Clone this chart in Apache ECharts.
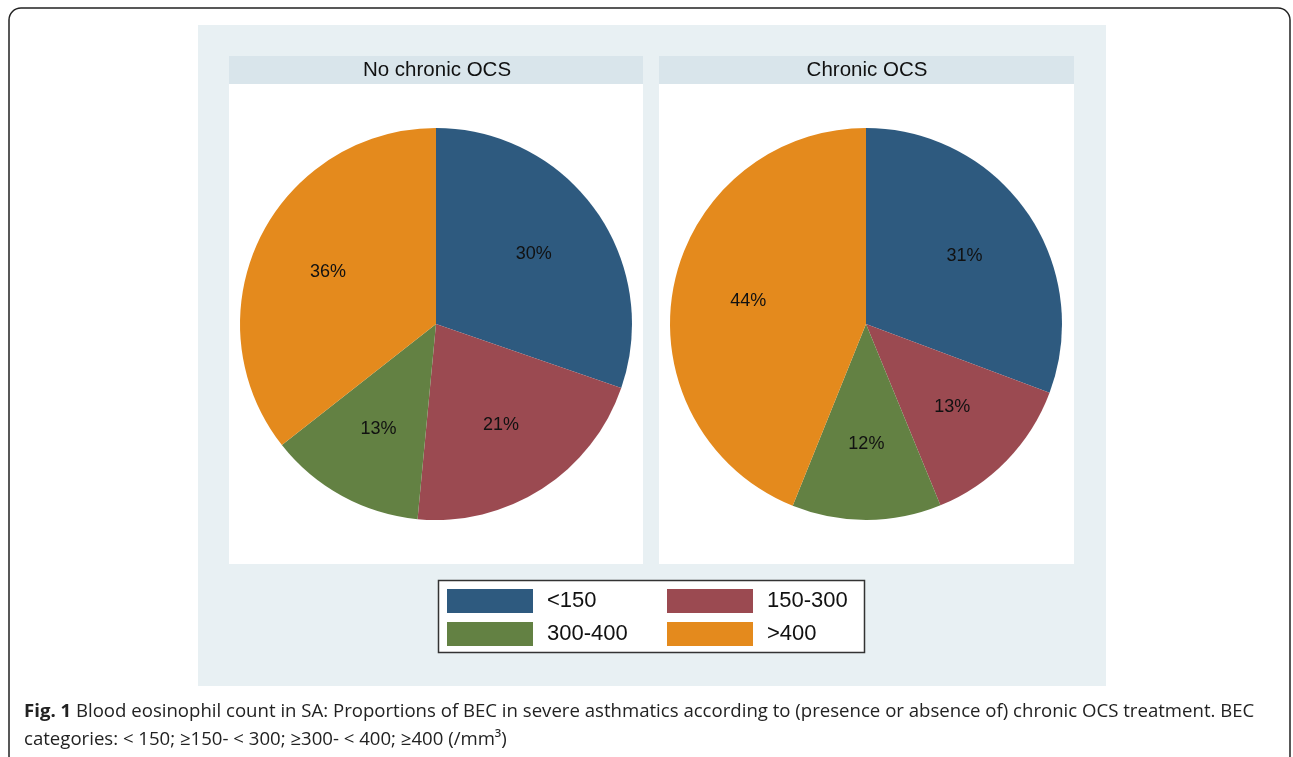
<!DOCTYPE html>
<html>
<head>
<meta charset="utf-8">
<script src="https://cdn.jsdelivr.net/npm/echarts@6/dist/echarts.min.js"></script>
<style>
html,body{margin:0;padding:0;background:#fff;}
#chart{width:1293px;height:757px;}
</style>
</head>
<body>
<div id="chart"></div>
<script>
const categories = ['<150', '150-300', '300-400', '>400'];
const noChronicOCS = [30.3, 21.2, 12.9, 35.6];
const chronicOCS = [30.7, 13.1, 12.3, 43.9];
const panelTitles = ['No chronic OCS', 'Chronic OCS'];
const colors = ['#2e5a7f', '#9b4a51', '#638143', '#e48a1d'];
const captionLine1Bold = 'Fig. 1';
const captionLine1 = ' Blood eosinophil count in SA: Proportions of BEC in severe asthmatics according to (presence or absence of) chronic OCS treatment. BEC';
const captionLine2 = 'categories: < 150; \u2265150- < 300; \u2265300- < 400; \u2265400 (/mm\u00b3)';

const chart = echarts.init(document.getElementById('chart'), null, {renderer: 'canvas'});

function mk(values) {
  return values.map((v, i) => ({name: categories[i], value: v}));
}
const font = '"Liberation Sans", Arial, Helvetica, sans-serif';
const capFont = '"Open Sans", "Noto Sans", sans-serif';

function pieSeries(values, cx, labels) {
  const base = {
    type: 'pie',
    center: [cx, 324],
    startAngle: 90,
    clockwise: true,
    silent: true,
    animation: false,
    percentPrecision: 0,
    data: mk(values),
    emphasis: {disabled: true},
    labelLine: {show: false}
  };
  if (!labels) {
    return Object.assign(base, {
      radius: [0, 196],
      itemStyle: {borderWidth: 0},
      label: {show: false}
    });
  }
  return Object.assign(base, {
    radius: [0, 234],
    z: 5,
    itemStyle: {color: 'rgba(0,0,0,0)', borderWidth: 0},
    label: {show: true, position: 'inside', formatter: '{d}%', color: '#111', fontSize: 18, fontFamily: font}
  });
}

const legendCommon = {
  orient: 'vertical',
  top: 589,
  padding: 0,
  itemWidth: 86,
  itemHeight: 24,
  itemGap: 9,
  icon: 'rect',
  selectedMode: false,
  textStyle: {fontSize: 22, fontFamily: font, color: '#111', padding: [0, 0, 0, 9]}
};

const option = {
  backgroundColor: '#ffffff',
  color: colors,
  animation: false,
  legend: [
    Object.assign({left: 447, data: [categories[0], categories[2]]}, legendCommon),
    Object.assign({left: 667, data: [categories[1], categories[3]]}, legendCommon)
  ],
  series: [
    pieSeries(noChronicOCS, 436, false),
    pieSeries(chronicOCS, 866, false),
    pieSeries(noChronicOCS, 436, true),
    pieSeries(chronicOCS, 866, true)
  ],
  graphic: [
    {type: 'rect', z: -10, shape: {x: 9, y: 8, width: 1281, height: 760, r: 12}, style: {fill: '#fff', stroke: '#222', lineWidth: 1.5}},
    {type: 'rect', z: -9, shape: {x: 198, y: 25, width: 908, height: 661}, style: {fill: '#e8f0f3'}},
    {type: 'rect', z: -8, shape: {x: 229, y: 56, width: 414, height: 508}, style: {fill: '#ffffff'}},
    {type: 'rect', z: -8, shape: {x: 659, y: 56, width: 415, height: 508}, style: {fill: '#ffffff'}},
    {type: 'rect', z: -7, shape: {x: 229, y: 56, width: 414, height: 28}, style: {fill: '#d9e5eb'}},
    {type: 'rect', z: -7, shape: {x: 659, y: 56, width: 415, height: 28}, style: {fill: '#d9e5eb'}},
    {type: 'text', z: 10, x: 437, y: 70, style: {text: panelTitles[0], fontSize: 20.5, fontFamily: font, fill: '#111', align: 'center', verticalAlign: 'middle'}},
    {type: 'text', z: 10, x: 867, y: 70, style: {text: panelTitles[1], fontSize: 20.5, fontFamily: font, fill: '#111', align: 'center', verticalAlign: 'middle'}},
    {type: 'rect', z: -6, shape: {x: 438.5, y: 580.5, width: 426, height: 72}, style: {fill: '#fff', stroke: '#333', lineWidth: 1.5}},
    {type: 'text', z: 10, x: 24, y: 712, style: {
      text: '{b|' + captionLine1Bold + '}' + captionLine1,
      fontSize: 18.6, fontFamily: capFont, fill: '#222', verticalAlign: 'middle',
      rich: {b: {fontWeight: 'bold', fontSize: 18.6, fontFamily: capFont, fill: '#222'}}
    }},
    {type: 'text', z: 10, x: 24, y: 740, style: {
      text: captionLine2,
      fontSize: 18.6, fontFamily: capFont, fill: '#222', verticalAlign: 'middle'
    }}
  ]
};
chart.setOption(option);
</script>
</body>
</html>
